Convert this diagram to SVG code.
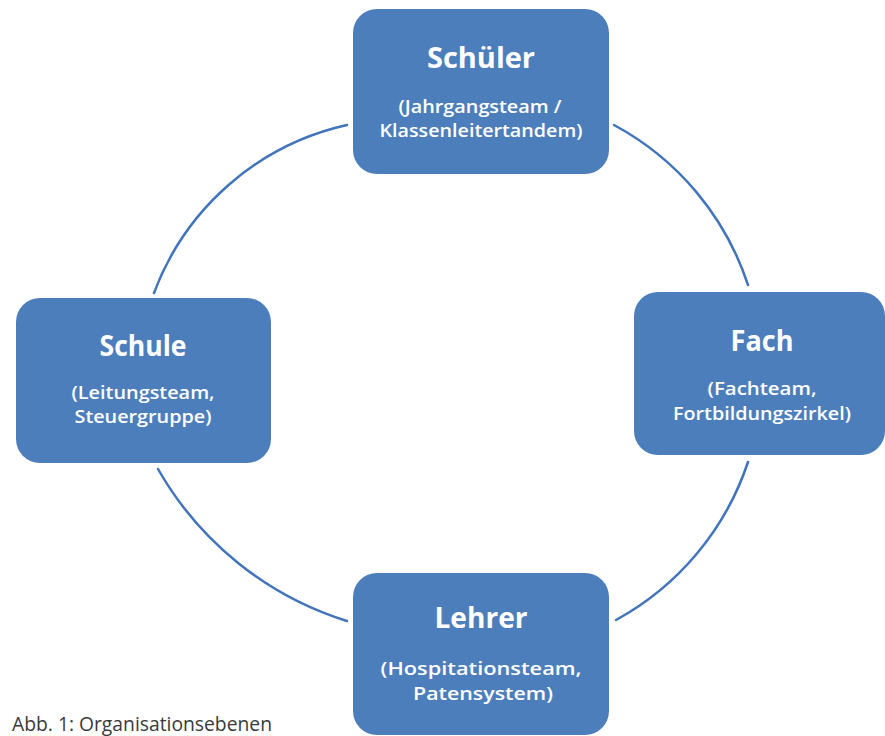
<svg xmlns="http://www.w3.org/2000/svg" width="885" height="736" viewBox="0 0 885 736">
  <style>
    .box { fill: #4D7EBC; }
    .title { font-family: "Open Sans", "Liberation Sans", sans-serif; font-weight: 700; font-size: 29px; fill: #FFFFFF; text-anchor: middle; }
    .sub { font-family: "Open Sans", "Liberation Sans", sans-serif; font-weight: 600; font-size: 17.5px; fill: #FFFFFF; text-anchor: middle; }
    .arc { fill: none; stroke: #4174BB; stroke-width: 2.5; stroke-linecap: round; }
    .caption { font-family: "Open Sans", "Liberation Sans", sans-serif; font-weight: 400; font-size: 20px; fill: #3A3A3A; }
  </style>
  <rect width="885" height="736" fill="#FFFFFF"/>
  <g id="connectors">
    <path class="arc" d="M154,293 A268,268 0 0 1 347,125"/>
    <path class="arc" d="M614,125 A281,281 0 0 1 748,285"/>
    <path class="arc" d="M748,462 A281,281 0 0 1 616,620"/>
    <path class="arc" d="M347,621 A331,331 0 0 1 158,469"/>
  </g>
  <g id="node-schueler">
    <rect class="box" x="353" y="9" width="256" height="165" rx="24"/>
    <text class="title" x="481" y="68" textLength="108" lengthAdjust="spacingAndGlyphs">Schüler</text>
    <text class="sub" x="480" y="113" textLength="163" lengthAdjust="spacingAndGlyphs">(Jahrgangsteam /</text>
    <text class="sub" x="481" y="137" textLength="203" lengthAdjust="spacingAndGlyphs">Klassenleitertandem)</text>
  </g>
  <g id="node-fach">
    <rect class="box" x="634" y="292" width="251" height="163" rx="24"/>
    <text class="title" x="762" y="351" textLength="63" lengthAdjust="spacingAndGlyphs">Fach</text>
    <text class="sub" x="762" y="395" textLength="109" lengthAdjust="spacingAndGlyphs">(Fachteam,</text>
    <text class="sub" x="762" y="420" textLength="178" lengthAdjust="spacingAndGlyphs">Fortbildungszirkel)</text>
  </g>
  <g id="node-lehrer">
    <rect class="box" x="353" y="573" width="256" height="162" rx="24"/>
    <text class="title" x="481" y="628" textLength="93" lengthAdjust="spacingAndGlyphs">Lehrer</text>
    <text class="sub" x="481" y="675" textLength="201" lengthAdjust="spacingAndGlyphs">(Hospitationsteam,</text>
    <text class="sub" x="483" y="700" textLength="140" lengthAdjust="spacingAndGlyphs">Patensystem)</text>
  </g>
  <g id="node-schule">
    <rect class="box" x="16" y="298" width="255" height="165" rx="24"/>
    <text class="title" x="143" y="356" textLength="87" lengthAdjust="spacingAndGlyphs">Schule</text>
    <text class="sub" x="143" y="399" textLength="143" lengthAdjust="spacingAndGlyphs">(Leitungsteam,</text>
    <text class="sub" x="143" y="423" textLength="137" lengthAdjust="spacingAndGlyphs">Steuergruppe)</text>
  </g>
  <text class="caption" x="12" y="731" textLength="260" lengthAdjust="spacingAndGlyphs">Abb. 1: Organisationsebenen</text>
</svg>
